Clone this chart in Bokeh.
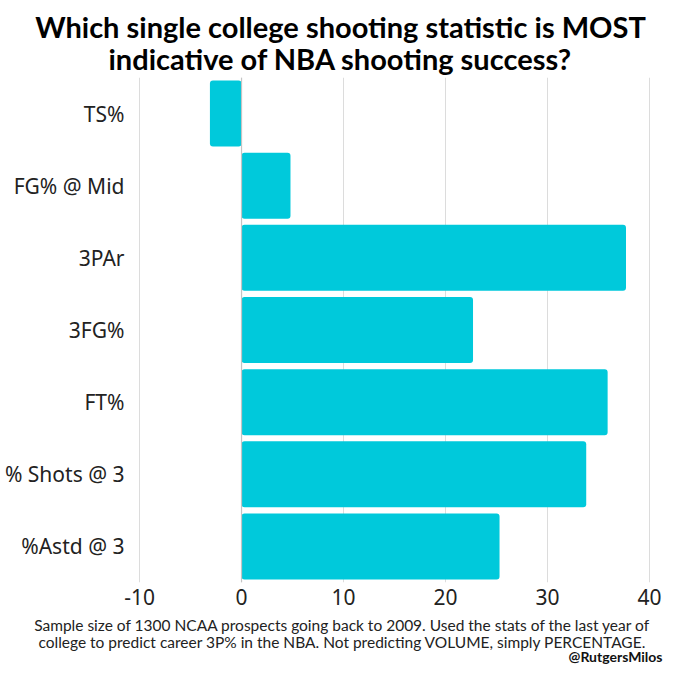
from bokeh.plotting import figure
from bokeh.layouts import column
from bokeh.models import ColumnDataSource, FactorRange, Range1d, Span, FixedTicker
from bokeh.core.properties import value
from bokeh.embed import file_html
from bokeh.resources import INLINE

# college stats and how well each one predicts NBA 3P%
stats = ["TS%", "FG% @ Mid", "3PAr", "3FG%", "FT%", "% Shots @ 3", "%Astd @ 3"]
importance = [-3.1, 4.8, 37.7, 22.7, 35.9, 33.8, 25.3]
x_ticks = [-10, 0, 10, 20, 30, 40]

title_lines = ["Which single college shooting statistic is MOST",
               "indicative of NBA shooting success?"]
note_lines = ["Sample size of 1300 NCAA prospects going back to 2009. Used the stats of the last year of",
              "college to predict career 3P% in the NBA. Not predicting VOLUME, simply PERCENTAGE."]
handle = "@RutgersMilos"

W = 664


def text_strip(h):
    # plain strip of canvas, y counts down from the top in pixels
    f = figure(width=W, height=h, output_backend="svg", toolbar_location=None,
               x_range=Range1d(0, W), y_range=Range1d(h, 0),
               x_axis_location=None, y_axis_location=None, min_border=0,
               frame_align=False)
    f.outline_line_color = None
    f.grid.visible = False
    return f


# title
top = text_strip(77)
top.text(x=[340, 340], y=[26, 58], text=title_lines, text_align="center", text_baseline="middle",
         text_font=value("Lato"), text_font_style="bold", text_font_size="29px", text_color="black")

# main chart
src = ColumnDataSource(data=dict(stat=stats, value=importance))

p = figure(width=W, height=537, output_backend="svg", toolbar_location=None,
           y_range=FactorRange(factors=list(reversed(stats)), range_padding=0),
           x_range=Range1d(-10.3, 40.3), frame_align=False,
           min_border_left=136, min_border_right=12, min_border_top=0, min_border_bottom=32)
p.outline_line_color = None

p.hbar(y="stat", right="value", left=0, height=0.915, source=src,
       fill_color="#00C9DB", line_color=None, border_radius=3)

p.add_layout(Span(location=0, dimension="height", line_color="#c4c4c4", line_width=1.2))

p.xgrid.ticker = FixedTicker(ticks=x_ticks)
p.xgrid.grid_line_color = "#dcdcdc"
p.ygrid.grid_line_color = None

p.xaxis.ticker = FixedTicker(ticks=x_ticks)
p.xaxis.major_label_overrides = {-10: "-10"}
p.xaxis.axis_line_color = None
p.xaxis.major_tick_line_color = None
p.xaxis.minor_tick_line_color = None
p.xaxis.major_tick_out = 0
p.xaxis.major_tick_in = 0
p.xaxis.minor_tick_out = 0
p.xaxis.major_label_text_font = "Noto Sans"
p.xaxis.major_label_text_font_size = "21px"
p.xaxis.major_label_text_color = "#222222"
p.xaxis.major_label_standoff = 6

p.yaxis.axis_line_color = None
p.yaxis.major_tick_line_color = None
p.yaxis.minor_tick_line_color = None
p.yaxis.major_tick_out = 0
p.yaxis.major_tick_in = 0
p.yaxis.minor_tick_out = 0
p.yaxis.major_label_text_font = "Noto Sans"
p.yaxis.major_label_text_font_size = "21px"
p.yaxis.major_label_text_color = "#222222"
p.yaxis.major_label_standoff = 12

# notes under the chart
bottom = text_strip(50)
bottom.text(x=[342, 342], y=[10, 27], text=note_lines, text_align="center", text_baseline="middle",
            text_font=value("Lato"), text_font_size="15.5px", text_color="#222222")
bottom.text(x=[662], y=[42], text=[handle], text_align="right", text_baseline="middle",
            text_font=value("Lato"), text_font_style="bold", text_font_size="14px", text_color="#111111")

layout = column(top, p, bottom, spacing=0)

open("out.html", "w").write(file_html(layout, INLINE))
